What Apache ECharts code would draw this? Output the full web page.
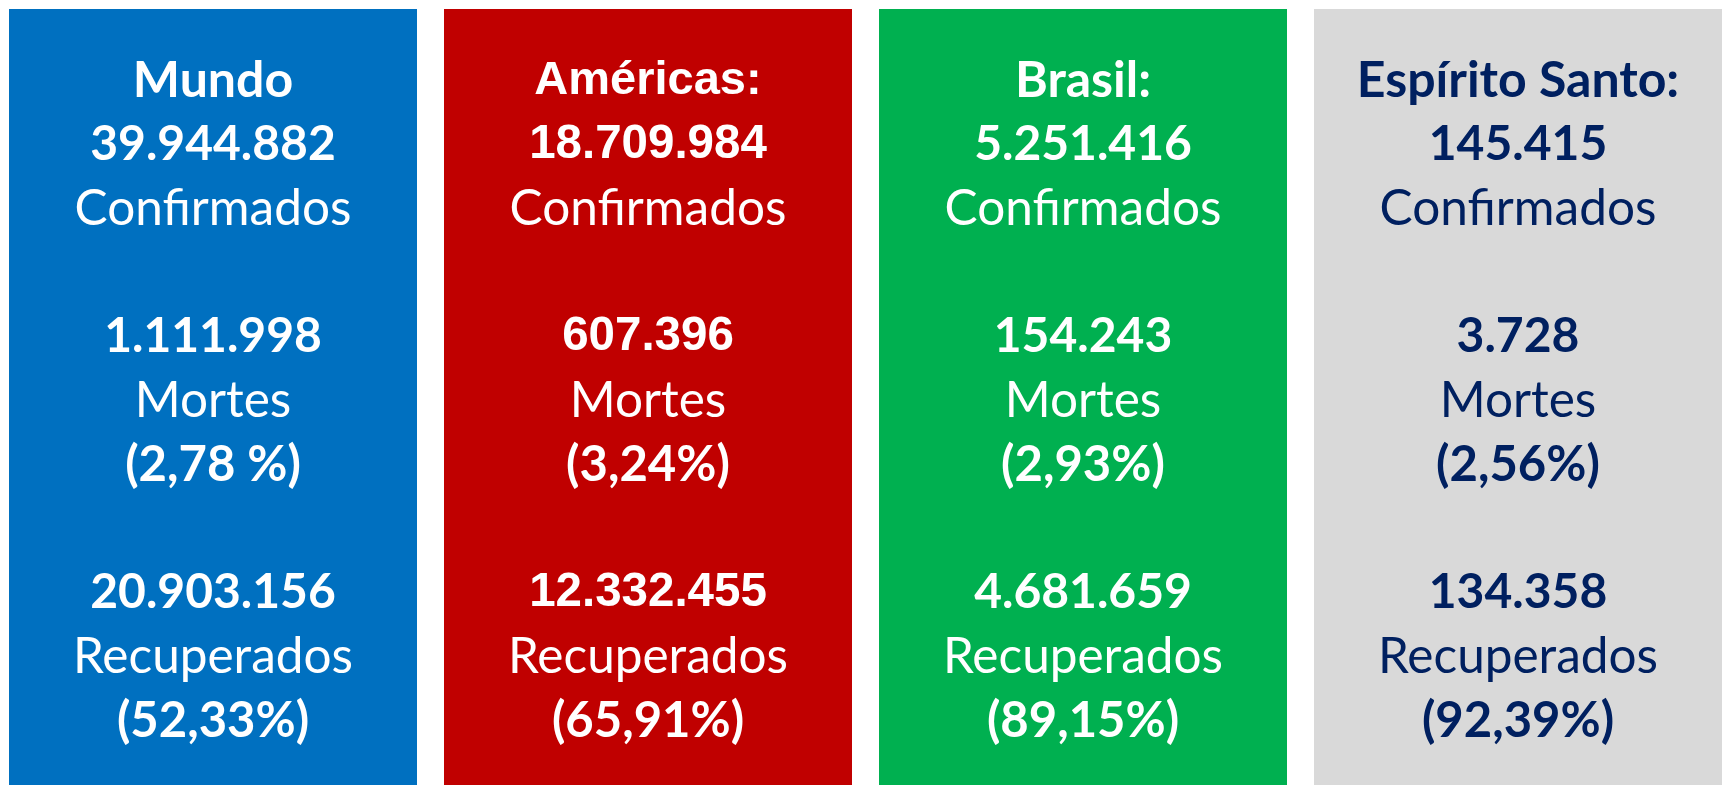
<!DOCTYPE html>
<html>
<head>
<meta charset="utf-8">
<script src="https://cdn.jsdelivr.net/npm/echarts@6/dist/echarts.min.js"></script>
<style>
  html, body { margin: 0; padding: 0; background: #fff; }
  #main { width: 1723px; height: 785px; }
</style>
</head>
<body>
<div id="main"></div>
<script>
// dados do painel
var regioes = ['Mundo', 'Américas:', 'Brasil:', 'Espírito Santo:'];
var confirmados = [39944882, 18709984, 5251416, 145415];
var mortes = [1111998, 607396, 154243, 3728];
var mortesPct = ['(2,78 %)', '(3,24%)', '(2,93%)', '(2,56%)'];
var recuperados = [20903156, 12332455, 4681659, 134358];
var recuperadosPct = ['(52,33%)', '(65,91%)', '(89,15%)', '(92,39%)'];

var corPainel = ['#0070C0', '#C00000', '#00B050', '#D9D9D9'];
var corTexto = ['#ffffff', '#ffffff', '#ffffff', '#002060'];

function fmt(n) {
  return String(n).replace(/\B(?=(\d{3})+(?!\d))/g, '.');
}

var chart = echarts.init(document.getElementById('main'));

var dados = regioes.map(function (r, i) {
  // o painel das Américas usa Arial nos títulos e números
  var fBold = i === 1 ? 'Liberation Sans' : 'Lato';
  var c = corTexto[i];
  var lh = 64;
  var rich = {
    t: { fontFamily: fBold, fontWeight: 'bold', fontSize: i === 1 ? 47 : 50, color: c, lineHeight: lh },
    n: { fontFamily: fBold, fontWeight: 'bold', fontSize: i === 1 ? 47.5 : 48, color: c, lineHeight: lh },
    l: { fontFamily: 'Lato', fontSize: 49.5, color: c, lineHeight: lh },
    p: { fontFamily: 'Lato', fontWeight: 'bold', fontSize: 49, color: c, lineHeight: lh }
  };
  var txt = [
    '{t|' + r + '}',
    '{n|' + fmt(confirmados[i]) + '}',
    '{l|Confirmados}',
    '{l| }',
    '{n|' + fmt(mortes[i]) + '}',
    '{l|Mortes}',
    '{p|' + mortesPct[i] + '}',
    '{l| }',
    '{n|' + fmt(recuperados[i]) + '}',
    '{l|Recuperados}',
    '{p|' + recuperadosPct[i] + '}'
  ].join('\n');
  return {
    value: 1,
    itemStyle: { color: corPainel[i] },
    label: { formatter: txt, rich: rich }
  };
});

var option = {
  animation: false,
  grid: { left: 213, right: 205, top: 9, bottom: -2 },
  xAxis: {
    type: 'category',
    data: regioes,
    boundaryGap: false,
    show: false
  },
  yAxis: {
    type: 'value',
    min: 0,
    max: 1,
    show: false
  },
  series: [{
    type: 'bar',
    barWidth: 408,
    clip: false,
    data: dados,
    label: {
      show: true,
      position: 'insideTop',
      distance: 40,
      align: 'center',
      lineHeight: 64
    }
  }]
};

chart.setOption(option);
</script>
</body>
</html>
